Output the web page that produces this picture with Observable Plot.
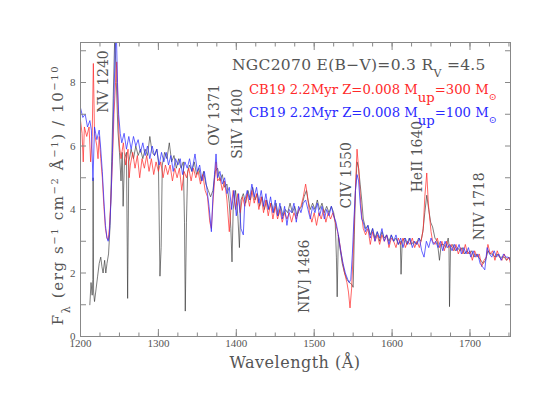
<!DOCTYPE html>
<html><head><meta charset="utf-8">
<script src="https://cdn.jsdelivr.net/npm/d3@7"></script>
<script src="https://cdn.jsdelivr.net/npm/@observablehq/plot@0.6"></script>
<style>
body{margin:0;background:#fff}
svg{font-family:"DejaVu Serif",serif}
</style>
</head><body><div id="chart"></div>
<script>
// Observed NGC2070 spectrum [wavelength Å, flux /1e-10]
const observed = [
[1212,1.0],[1213.5,1.7],[1215,1.3],[1215.8,1.8],[1216.2,5.0],[1216.8,1.4],[1218,1.1],[1220,1.5],[1222,1.9],[1224,2.3],[1226,2.5],[1227.5,2.2],[1229,2.0],[1231,2.4],[1232.5,2.0],[1234,2.3],[1236,2.6],
[1238,3.5],[1240,5.5],[1242,7.5],[1244,9.5],[1246,8.0],[1248,6.5],[1250,5.8],[1252,4.9],[1253.5,5.8],[1254.7,4.1],[1256.5,5.6],[1259,5.8],[1260.5,1.2],[1262,5.5],
[1265,5.9],[1268,5.6],[1271,6.0],[1274,5.7],[1277,5.9],[1280,5.6],[1283,5.9],[1286,5.7],[1289,6.3],[1292,5.8],[1295,5.7],[1298,5.9],[1300,5.5],[1302,1.9],[1303.5,2.8],[1305,5.4],
[1308,5.8],[1311,5.6],[1314,6.1],[1317,5.5],[1320,5.7],[1323,5.3],[1326,5.6],[1329,5.3],[1332,5.5],[1333.5,3.6],[1334.5,0.8],[1336,3.6],[1337.5,5.2],[1340,5.4],[1343,5.2],[1346,5.5],
[1349,5.1],[1352,5.3],[1355,4.9],[1358,5.2],[1361,4.8],[1364,4.6],[1367,4.4],[1370,4.6],[1373,5.2],[1376,5.3],[1379,4.9],[1382,5.1],[1385,4.7],[1388,4.8],[1391,4.2],[1393,3.4],[1394.5,2.35],
[1396,4.0],[1399,4.6],[1402,3.8],[1404,2.8],[1406,4.3],[1409,4.5],[1412,4.2],[1415,4.6],[1418,4.3],[1421,4.7],[1424,4.3],[1427,4.5],[1430,4.1],[1433,4.4],[1436,4.0],[1439,4.3],[1442,4.0],
[1445,4.2],[1448,3.9],[1451,4.2],[1454,3.8],[1457,4.1],[1460,3.8],[1463,4.0],[1466,3.9],[1469,4.2],[1472,3.9],[1475,4.1],[1478,3.8],[1481,4.0],[1484,4.1],[1487,4.4],[1490,4.6],[1492,4.3],
[1495,4.0],[1498,4.2],[1501,4.0],[1504,4.3],[1507,4.0],[1510,4.2],[1513,3.9],[1516,4.1],[1519,3.9],[1522,4.1],[1525,3.9],[1527,3.6],[1528.5,2.5],[1529.5,1.25],[1531,3.2],[1533,2.8],
[1536,2.3],[1539,2.0],[1542,1.8],[1545,1.7],[1548,1.65],[1550,1.55],[1551.5,3.2],[1553,4.6],[1555,5.5],[1557,5.3],[1559,4.8],[1561,4.3],[1563,3.7],[1566,3.4],[1569,3.5],[1572,3.2],
[1575,3.4],[1578,3.1],[1581,3.3],[1584,3.0],[1587,3.3],[1590,3.1],[1593,3.2],[1596,3.0],[1599,3.2],[1602,3.0],[1605,3.1],[1608,2.9],[1610.5,3.0],[1611.5,1.96],[1613,3.0],[1616,3.1],
[1619,2.9],[1622,3.1],[1625,2.9],[1628,3.0],[1631,2.9],[1634,3.1],[1637,3.0],[1639.5,3.3],[1642,3.9],[1644.5,4.45],[1647,4.0],[1649.5,3.6],[1652,3.45],[1655,3.1],[1658,3.0],[1660.8,2.4],
[1663,2.9],[1666,2.9],[1669,2.8],[1672,3.1],[1673,2.9],[1673.7,0.94],[1675,2.8],[1678,2.9],[1681,2.7],[1684,2.8],[1687,2.7],[1690,2.8],[1693,2.6],[1696,2.7],[1699,2.6],[1702,2.7],
[1705,2.5],[1708,2.6],[1711,2.5],[1714,2.4],[1717,2.3],[1720,2.4],[1723,2.7],[1726,2.6],[1729,2.6],[1732,2.5],[1735,2.6],[1738,2.5],[1741,2.5],[1744,2.5],[1747,2.4],[1750,2.5],[1752,2.4]
];
// CB19 2.2Myr Z=0.008 Mup=300
const modelMup300 = [
[1200,6.8],[1202,6.4],[1203.5,5.5],[1205,6.6],[1208,6.3],[1211,6.6],[1213,5.5],[1215,6.3],[1216.5,8.6],[1218,6.4],[1221,6.0],[1222.5,5.6],[1224,6.3],[1226,5.6],[1228,5.0],[1230,4.1],
[1232,3.4],[1234,3.1],[1235.5,3.05],[1237,3.4],[1239,4.3],[1241,5.5],[1243,7.0],[1245,8.0],[1246.5,8.65],[1248,7.3],[1250,6.0],[1252,5.6],[1255,6.1],[1258,5.4],[1261,5.9],[1262.5,5.0],
[1264,5.4],[1267,5.8],[1270,5.3],[1273,5.7],[1276,5.0],[1279,5.6],[1282,5.3],[1285,5.7],[1288,5.2],[1291,5.6],[1294,5.1],[1297,5.5],[1300,5.2],[1303,5.5],[1306,5.0],[1309,5.4],
[1312,5.1],[1315,5.4],[1318,4.9],[1321,5.3],[1324,5.0],[1327,5.3],[1330,4.6],[1333,5.2],[1336,5.0],[1339,5.3],[1342,4.9],[1345,5.3],[1348,5.0],[1351,5.2],[1354,4.8],[1357,5.1],
[1360,4.6],[1363,4.4],[1366,3.6],[1368,3.4],[1370,4.2],[1372,4.9],[1374,5.5],[1376,4.9],[1379,5.0],[1382,4.6],[1385,4.9],[1388,4.3],[1391,3.3],[1393,4.0],[1396,4.6],[1399,4.0],
[1402,4.5],[1405,3.9],[1408,4.4],[1411,4.1],[1414,4.5],[1417,4.1],[1420,4.6],[1423,4.2],[1426,4.5],[1429,4.0],[1432,4.4],[1435,3.9],[1438,4.3],[1441,3.8],[1444,4.2],[1447,3.7],
[1450,4.1],[1453,3.7],[1456,4.0],[1459,3.6],[1462,3.9],[1465,3.7],[1468,3.9],[1471,3.6],[1474,3.9],[1477,3.7],[1480,4.0],[1483,4.1],[1486,4.4],[1489,4.8],[1491,4.5],[1494,3.9],
[1497,3.6],[1500,3.9],[1503,3.5],[1506,3.9],[1509,3.7],[1512,4.0],[1515,3.6],[1518,3.9],[1521,3.7],[1524,3.9],[1527,3.6],[1530,3.3],[1533,2.9],[1536,2.4],[1539,2.0],[1542,1.7],
[1544,1.4],[1546,0.9],[1548,1.5],[1550,2.6],[1552,4.0],[1553.5,5.0],[1555,5.9],[1557,5.3],[1559,4.5],[1561,3.8],[1563,3.4],[1566,3.2],[1569,3.4],[1572,2.9],[1575,3.3],[1578,3.0],
[1581,3.2],[1584,2.9],[1587,3.2],[1590,3.0],[1593,3.2],[1596,2.8],[1599,3.1],[1602,3.0],[1605,2.8],[1608,3.1],[1611,2.9],[1614,3.1],[1617,2.8],[1620,3.0],[1623,2.9],[1626,3.1],
[1629,2.8],[1632,3.0],[1635,2.8],[1638,3.1],[1640,3.4],[1642,4.4],[1644.5,5.15],[1646.5,4.2],[1648,3.8],[1650,3.3],[1652,3.0],[1655,2.9],[1658,3.1],[1661,2.8],[1664,3.0],[1667,2.7],
[1670,3.0],[1673,2.8],[1676,2.9],[1679,2.7],[1682,2.9],[1685,2.6],[1688,2.8],[1691,2.6],[1694,2.9],[1697,2.6],[1700,2.7],[1703,2.4],[1706,2.7],[1709,2.5],[1712,2.6],[1715,2.2],
[1718,2.4],[1721,2.5],[1723,2.9],[1726,2.6],[1729,2.7],[1732,2.4],[1735,2.7],[1738,2.5],[1741,2.4],[1744,2.6],[1747,2.4],[1750,2.5],[1752,2.3]
];
// CB19 2.2Myr Z=0.008 Mup=100
const modelMup100 = [
[1200,7.2],[1203,6.9],[1206,7.0],[1209,6.6],[1212,6.8],[1214,6.5],[1216,4.9],[1218,6.6],[1221,6.2],[1224,6.5],[1226,5.9],[1228,5.2],[1230,4.3],[1232,3.5],[1234,3.1],[1235.5,3.0],
[1237,3.2],[1239,4.2],[1241,5.8],[1243,7.6],[1244.5,9.0],[1246,9.6],[1247.5,8.0],[1249,7.0],[1251,6.4],[1253,6.1],[1256,6.4],[1259,5.9],[1262,6.3],[1265,5.9],[1268,6.3],[1271,6.0],
[1274,6.2],[1277,5.8],[1280,6.1],[1283,5.7],[1286,6.0],[1289,5.6],[1292,6.0],[1295,5.7],[1298,5.9],[1301,5.4],[1304,5.8],[1307,5.5],[1310,5.8],[1313,5.4],[1316,5.7],[1319,5.2],
[1322,5.6],[1325,5.4],[1328,5.6],[1331,5.1],[1334,5.5],[1337,5.3],[1340,5.6],[1343,5.2],[1347,5.75],[1350,5.2],[1353,5.4],[1356,4.9],[1359,5.2],[1362,4.7],[1365,4.1],[1368,3.3],
[1370,4.4],[1372,5.1],[1374,5.75],[1376,5.0],[1379,5.2],[1382,4.8],[1385,5.0],[1388,4.5],[1391,4.7],[1394,4.0],[1397,4.6],[1400,3.8],[1403,4.5],[1406,3.4],[1409,3.2],[1411,4.3],
[1414,4.6],[1417,4.3],[1420,4.8],[1423,4.4],[1426,4.7],[1429,4.2],[1432,4.6],[1435,4.1],[1438,4.5],[1441,4.0],[1444,4.4],[1447,3.9],[1450,4.3],[1453,3.8],[1456,4.2],[1459,3.7],
[1462,4.1],[1465,3.5],[1468,4.0],[1471,3.9],[1474,4.2],[1477,3.6],[1480,4.1],[1483,3.9],[1486,4.2],[1489,4.3],[1492,4.0],[1495,3.7],[1498,4.1],[1501,3.9],[1504,4.2],[1507,3.8],
[1510,4.1],[1513,3.7],[1516,4.0],[1519,3.8],[1522,4.1],[1525,3.8],[1528,3.6],[1531,3.2],[1534,2.7],[1537,2.3],[1540,2.0],[1543,1.8],[1545,1.7],[1547,1.8],[1549,2.6],[1551,3.7],
[1553,4.6],[1555,5.1],[1557,4.9],[1559,4.2],[1561,3.7],[1563,3.6],[1566,3.3],[1569,3.5],[1572,3.1],[1575,3.4],[1578,3.0],[1581,3.3],[1584,3.1],[1587,3.4],[1590,3.0],[1593,3.2],
[1596,2.9],[1599,3.2],[1602,3.0],[1605,3.2],[1608,2.9],[1611,3.1],[1614,2.8],[1617,3.1],[1620,2.9],[1623,3.1],[1626,2.8],[1629,3.0],[1632,2.9],[1635,3.1],[1638,2.7],[1641,2.5],
[1644,3.0],[1647,2.8],[1650,3.1],[1653,2.9],[1656,3.0],[1659,2.8],[1662,3.0],[1665,2.7],[1668,3.0],[1671,2.8],[1674,2.9],[1677,2.7],[1680,2.9],[1683,2.7],[1686,2.9],[1689,2.6],
[1692,2.8],[1695,2.6],[1698,2.8],[1701,2.5],[1704,2.7],[1707,2.5],[1710,2.6],[1713,2.3],[1716,2.2],[1719,2.1],[1722,2.8],[1725,2.6],[1728,2.5],[1731,2.7],[1734,2.5],[1737,2.6],
[1740,2.4],[1743,2.6],[1746,2.5],[1749,2.5],[1752,2.4]
];
// Line identifications
const lineNames = ["NV 1240","OV 1371","SiIV 1400","NIV] 1486","CIV 1550","HeII 1640","NIV 1718"];
const lineLabelWave = [1230, 1371.8, 1401.4, 1487.8, 1541.9, 1632, 1711.9];
const lineLabelFlux = [7.05, 6.01, 5.6, 0.74, 4.03, 4.54, 3.03];
// Axis ticks
const xMajorTicks = [1200,1300,1400,1500,1600,1700];
const xMinorTicks = d3.range(1200, 1751, 25);
const yMajorTicks = [0,2,4,6,8];
const yMinorTicks = [0,1,2,3,4,5,6,7,8,9];
const titleText = "NGC2070 E(B\u2212V)=0.3";
const legendLabels = ["CB19 2.2Myr Z=0.008 M", "CB19 2.2Myr Z=0.008 M"];
const legendMup = [300, 100];

const toRows = a => a.map(([w, f]) => ({w, f}));
const gray = "#555";
const frameCol = "#888";
const redCol = "#ff2a2a";
const blueCol = "#2a2aff";

const tickStyle = {stroke: frameCol, fill: "none", label: null};
const chart = Plot.plot({
  width: 538, height: 416,
  marginLeft: 80, marginRight: 28, marginTop: 42, marginBottom: 80,
  style: {fontFamily: "DejaVu Serif", background: "white", color: gray},
  x: {domain: [1200, 1752], label: null},
  y: {domain: [0, 9.26], label: null},
  marks: [
    Plot.line(toRows(observed), {x: "w", y: "f", stroke: "#333", strokeWidth: 0.8, strokeOpacity: 0.8, clip: true}),
    Plot.line(toRows(modelMup300), {x: "w", y: "f", stroke: redCol, strokeWidth: 0.9, strokeOpacity: 0.8, clip: true}),
    Plot.line(toRows(modelMup100), {x: "w", y: "f", stroke: blueCol, strokeWidth: 0.9, strokeOpacity: 0.8, clip: true}),
    Plot.frame({stroke: frameCol}),
    Plot.axisX({...tickStyle, anchor: "bottom", ticks: xMinorTicks, tickSize: -3.5}),
    Plot.axisX({...tickStyle, anchor: "top", ticks: xMinorTicks, tickSize: -3.5}),
    Plot.axisX({...tickStyle, anchor: "bottom", ticks: xMajorTicks, tickSize: -7}),
    Plot.axisX({...tickStyle, anchor: "top", ticks: xMajorTicks, tickSize: -7}),
    Plot.axisY({...tickStyle, anchor: "left", ticks: yMinorTicks, tickSize: -6}),
    Plot.axisY({...tickStyle, anchor: "right", ticks: yMinorTicks, tickSize: -6}),
    Plot.axisX({anchor: "bottom", ticks: xMajorTicks, tickFormat: d => String(d), tickSize: 0, tickPadding: 3, label: null, fontSize: 11, fontFamily: "Liberation Serif", fill: gray}),
    Plot.axisY({anchor: "left", ticks: yMajorTicks, tickFormat: d => String(d), tickSize: 0, tickPadding: 5, label: null, fontSize: 11, fontFamily: "Liberation Serif", fill: gray}),
    Plot.text(lineNames, {x: (d, i) => lineLabelWave[i], y: (d, i) => lineLabelFlux[i], text: d => d,
      rotate: -90, textAnchor: "start", lineAnchor: "middle", fontSize: 14, fill: gray})
  ]
});
document.getElementById("chart").appendChild(chart);

const svg = d3.select(chart);
// x-axis title
svg.append("text").attr("x", 295).attr("y", 368).attr("text-anchor", "middle")
  .attr("font-size", 16).attr("fill", gray).attr("letter-spacing", 0.5).text("Wavelength (\u00C5)");
// y-axis title with sub/superscripts
const yl = svg.append("text").attr("transform", "translate(63,195) rotate(-90)")
  .attr("text-anchor", "middle").attr("font-size", 15).attr("fill", gray).attr("letter-spacing", 1.6);
const addPart = (el, txt, kind) => {
  const t = el.append("tspan").text(txt);
  if (kind === "sup") t.attr("font-size", 10).attr("baseline-shift", "super");
  if (kind === "sub") t.attr("font-size", 11).attr("baseline-shift", "sub");
  return t;
};
addPart(yl, "F"); addPart(yl, "\u03BB", "sub"); addPart(yl, " (erg s"); addPart(yl, "\u22121", "sup");
addPart(yl, " cm"); addPart(yl, "\u22122", "sup"); addPart(yl, " \u00C5"); addPart(yl, "\u22121", "sup");
addPart(yl, ") / 10"); addPart(yl, "\u221210", "sup");

// title
const tt = svg.append("text").attr("x", 232).attr("y", 70).attr("text-anchor", "start")
  .attr("font-size", 15.5).attr("fill", gray).attr("letter-spacing", 0.3);
addPart(tt, titleText + " R"); const rv = addPart(tt, "V", "sub"); rv.attr("font-size", 11); addPart(tt, " =4.5");

// legend texts
[redCol, blueCol].forEach((c, i) => {
  const lt = svg.append("text").attr("x", 249).attr("y", 94 + i * 23).attr("text-anchor", "start")
    .attr("font-size", 13.2).attr("fill", c);
  addPart(lt, legendLabels[i]); addPart(lt, "up", "sub").attr("font-size", 13.2);
  addPart(lt, "=" + legendMup[i] + " M"); addPart(lt, "\u2299", "sub").attr("font-size", 9.5);
});
</script>
</body></html>
